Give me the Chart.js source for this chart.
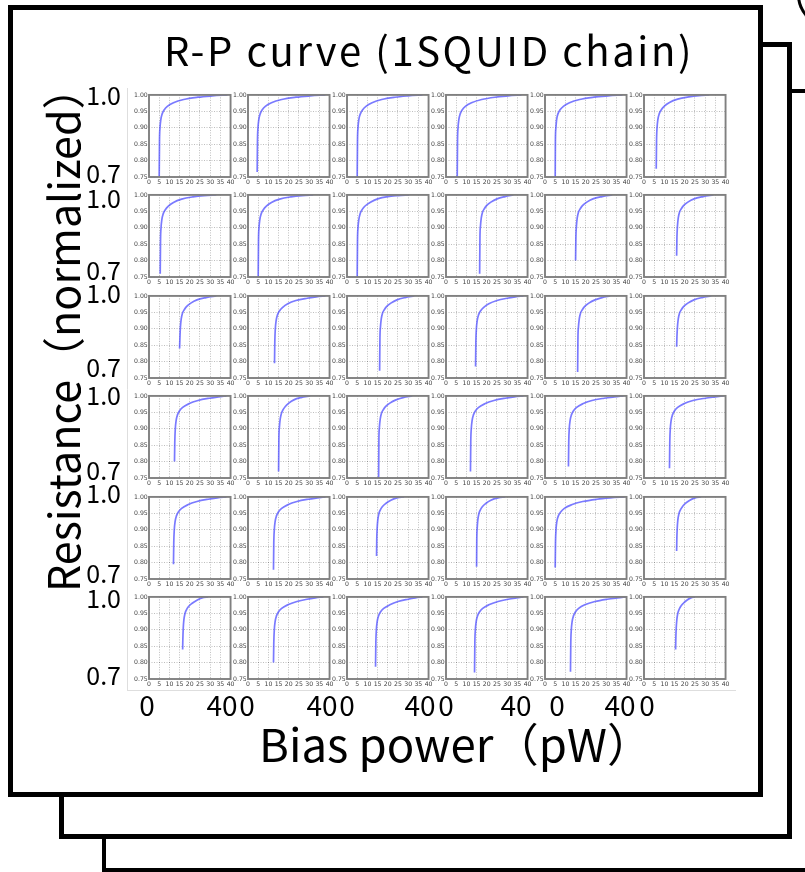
<!DOCTYPE html>
<html>
<head>
<meta charset="utf-8">
<script src="https://cdn.jsdelivr.net/npm/chart.js@4.4.1/dist/chart.umd.min.js"></script>
<style>
  html, body { margin: 0; padding: 0; background: #fff; }
  body { width: 805px; height: 872px; overflow: hidden; position: relative; font-family: "Noto Sans CJK JP", sans-serif; }
  .frame { position: absolute; box-sizing: border-box; background: #fff; border: 5px solid #000; }
  #f3 { left: 102px; top: 89px; width: 760px; height: 783px; border-width: 4px; }
  #f2 { left: 59px; top: 42px; width: 733px; height: 797px; }
  #f1 { left: 8px; top: 5px; width: 755px; height: 792px; }
  #corner { position: absolute; left: 797px; top: -200px; width: 100px; height: 227px; box-sizing: border-box;
            border-left: 3px solid #000; border-bottom: 3px solid #000; border-bottom-left-radius: 32px; }
  canvas { position: absolute; }
  .txt { position: absolute; white-space: nowrap; color: #000; line-height: 1; font-family: "Noto Sans CJK JP", sans-serif; }
  #title { left: 0; width: 858px; top: 29px; font-size: 40px; letter-spacing: 2.6px; text-align: center; }
  #xtitle { left: 259px; top: 720px; font-size: 45.5px; }
  #ytitle { left: 40px; top: 592px; font-size: 43px; transform-origin: 0 0; transform: rotate(-90deg); }
</style>
</head>
<body>
<div id="corner"></div>
<div class="frame" id="f3"></div>
<div class="frame" id="f2"></div>
<div class="frame" id="f1"></div>
<canvas id="outer" width="805" height="872"></canvas>
<div id="grid"></div>
<div class="txt" id="title">R-P curve (1SQUID chain)</div>
<div class="txt" id="xtitle">Bias power（pW）</div>
<div class="txt" id="ytitle">Resistance（normalized）</div>

<script>
// Tick values of every small R-P panel
const xTicks = [0, 5, 10, 15, 20, 25, 30, 35, 40];
const yTicks = [0.75, 0.80, 0.85, 0.90, 0.95, 1.00];

// Measured R-P curves, [bias power (pW), normalized resistance], one list per SQUID row
const row1 = [
  [[5,0.75],[5.15,0.86],[5.4,0.90],[5.8,0.925],[6.5,0.943],[7.5,0.955],[9,0.965],[12,0.976],[17,0.986],[24,0.993],[31,0.997],[38.5,1.0]],
  [[4.5,0.765],[4.65,0.86],[4.9,0.90],[5.3,0.925],[6,0.943],[7,0.955],[8.5,0.965],[11.5,0.976],[16.5,0.986],[23.5,0.993],[30.5,0.997],[38,1.0]],
  [[5,0.75],[5.15,0.86],[5.4,0.90],[5.8,0.925],[6.6,0.943],[7.7,0.955],[9.3,0.965],[12.3,0.976],[17,0.986],[23.5,0.993],[30,0.997],[37,1.0]],
  [[5.5,0.75],[5.65,0.86],[5.9,0.90],[6.3,0.925],[7,0.943],[8,0.955],[9.5,0.965],[12.5,0.976],[17.5,0.986],[24,0.993],[30.5,0.997],[37,1.0]],
  [[5,0.75],[5.1,0.86],[5.35,0.90],[5.7,0.925],[6.4,0.943],[7.4,0.955],[9,0.965],[12,0.976],[17,0.986],[24,0.993],[31,0.997],[38,1.0]],
  [[6,0.775],[6.15,0.86],[6.4,0.90],[6.8,0.925],[7.5,0.943],[8.5,0.955],[10,0.966],[12.5,0.977],[16.5,0.987],[22,0.994],[27,0.998],[32,1.0]]
];
const row2 = [
  [[5.5,0.76],[5.65,0.86],[5.9,0.90],[6.3,0.925],[7,0.943],[8,0.955],[9.5,0.966],[12,0.977],[16,0.987],[21.5,0.994],[27,0.998],[33,1.0]],
  [[5,0.75],[5.15,0.86],[5.4,0.90],[5.8,0.925],[6.5,0.943],[7.5,0.955],[9,0.966],[11.5,0.977],[15.5,0.987],[21,0.994],[26.5,0.998],[32,1.0]],
  [[5,0.75],[5.15,0.86],[5.4,0.90],[5.8,0.925],[6.5,0.944],[7.5,0.956],[9,0.967],[11.5,0.978],[15,0.988],[20,0.995],[25,0.998],[30.5,1.0]],
  [[16.5,0.76],[16.65,0.87],[16.9,0.905],[17.3,0.93],[17.9,0.947],[18.8,0.958],[20,0.968],[22,0.978],[25,0.988],[29,0.995],[33,1.0]],
  [[15,0.80],[15.15,0.87],[15.4,0.905],[15.8,0.93],[16.4,0.947],[17.3,0.958],[18.5,0.968],[20.5,0.978],[23.5,0.988],[28,0.995],[33,1.0]],
  [[16,0.815],[16.15,0.87],[16.4,0.905],[16.8,0.93],[17.4,0.947],[18.3,0.958],[19.5,0.968],[21.5,0.978],[24.5,0.988],[29,0.995],[34,1.0]]
];
const row3 = [
  [[15,0.84],[15.15,0.87],[15.4,0.905],[15.8,0.93],[16.4,0.947],[17.3,0.958],[18.5,0.968],[20.5,0.978],[23.5,0.988],[28,0.995],[33,1.0]],
  [[13,0.795],[13.15,0.86],[13.4,0.90],[13.8,0.925],[14.5,0.943],[15.5,0.955],[17,0.965],[19.5,0.976],[23.5,0.986],[29,0.993],[33.5,0.997],[38,1.0]],
  [[16,0.772],[16.15,0.87],[16.4,0.905],[16.8,0.93],[17.4,0.947],[18.3,0.958],[19.5,0.968],[21.5,0.978],[24.5,0.988],[28.5,0.995],[33,1.0]],
  [[14.5,0.785],[14.65,0.86],[14.9,0.90],[15.3,0.925],[16,0.943],[17,0.955],[18.5,0.965],[21,0.976],[25,0.986],[30,0.993],[34,0.997],[38,1.0]],
  [[16,0.768],[16.15,0.87],[16.4,0.905],[16.8,0.93],[17.4,0.947],[18.3,0.958],[19.5,0.968],[21.5,0.978],[24.5,0.988],[28,0.995],[32,1.0]],
  [[16,0.845],[16.15,0.875],[16.4,0.905],[16.8,0.93],[17.4,0.947],[18.3,0.958],[19.5,0.968],[21.5,0.978],[24.5,0.988],[28.5,0.995],[33,1.0]]
];
const row4 = [
  [[12.5,0.80],[12.65,0.86],[12.9,0.90],[13.3,0.925],[14,0.943],[15,0.955],[16.5,0.965],[19.5,0.976],[24,0.986],[29.5,0.993],[34,0.997],[38,1.0]],
  [[15,0.77],[15.15,0.87],[15.4,0.905],[15.8,0.93],[16.4,0.947],[17.2,0.958],[18.3,0.968],[20,0.978],[22.5,0.988],[26,0.995],[30.5,1.0]],
  [[15.5,0.75],[15.65,0.87],[15.9,0.905],[16.3,0.93],[16.9,0.947],[17.8,0.958],[19,0.968],[21,0.978],[24,0.988],[27.5,0.995],[32,1.0]],
  [[12,0.77],[12.15,0.86],[12.4,0.90],[12.8,0.925],[13.5,0.943],[14.5,0.955],[16,0.965],[19,0.976],[23.5,0.986],[29,0.993],[33.5,0.997],[38,1.0]],
  [[11.5,0.785],[11.65,0.86],[11.9,0.90],[12.3,0.925],[13,0.943],[14,0.955],[15.5,0.965],[18.5,0.976],[23,0.986],[29,0.993],[34,0.997],[38.5,1.0]],
  [[12.5,0.78],[12.65,0.86],[12.9,0.90],[13.3,0.925],[14,0.943],[15,0.955],[16.5,0.965],[19.5,0.976],[24,0.986],[30,0.993],[35,0.997],[39,1.0]]
];
const row5 = [
  [[12,0.795],[12.15,0.86],[12.4,0.90],[12.8,0.925],[13.5,0.943],[14.5,0.955],[16,0.965],[19,0.976],[23.5,0.986],[29,0.993],[33.5,0.997],[38,1.0]],
  [[12.5,0.778],[12.65,0.86],[12.9,0.90],[13.3,0.925],[14,0.943],[15,0.955],[16.5,0.965],[19.5,0.976],[24,0.986],[29.5,0.993],[34,0.997],[38,1.0]],
  [[14.5,0.82],[14.6,0.87],[14.8,0.905],[15.1,0.93],[15.6,0.948],[16.3,0.96],[17.3,0.97],[19,0.98],[21.5,0.99],[24.5,0.997],[28,1.0]],
  [[15,0.787],[15.1,0.87],[15.3,0.905],[15.6,0.93],[16.1,0.948],[16.8,0.96],[17.8,0.97],[19.5,0.98],[22,0.99],[25.5,0.997],[29,1.0]],
  [[5,0.785],[5.15,0.86],[5.4,0.90],[5.8,0.925],[6.6,0.943],[7.8,0.955],[9.5,0.965],[13,0.976],[18.5,0.986],[25.5,0.993],[32,0.997],[39,1.0]],
  [[16,0.835],[16.1,0.87],[16.3,0.905],[16.6,0.93],[17.1,0.948],[17.8,0.96],[18.8,0.97],[20.3,0.98],[22.5,0.99],[25,0.997],[28,1.0]]
];
const row6 = [
  [[16.5,0.84],[16.6,0.87],[16.8,0.905],[17.1,0.93],[17.6,0.948],[18.3,0.96],[19.3,0.97],[21,0.98],[23.5,0.99],[26,0.997],[29,1.0]],
  [[12.5,0.80],[12.65,0.86],[12.9,0.90],[13.3,0.925],[14,0.943],[15,0.955],[16.5,0.965],[19.5,0.976],[24,0.986],[29,0.993],[33,0.997],[37,1.0]],
  [[14,0.787],[14.15,0.86],[14.4,0.90],[14.8,0.925],[15.5,0.943],[16.5,0.955],[18,0.965],[21,0.976],[25,0.986],[30,0.993],[33.5,0.997],[37,1.0]],
  [[14,0.77],[14.15,0.86],[14.4,0.90],[14.8,0.925],[15.5,0.943],[16.5,0.955],[18,0.965],[21,0.976],[25.5,0.986],[30.5,0.993],[34.5,0.997],[38,1.0]],
  [[12.5,0.772],[12.65,0.86],[12.9,0.90],[13.3,0.925],[14,0.943],[15,0.955],[16.5,0.965],[19.5,0.976],[24.5,0.986],[30.5,0.993],[35.5,0.997],[40,1.0]],
  [[15.5,0.84],[15.6,0.87],[15.8,0.905],[16.1,0.93],[16.5,0.948],[17.1,0.96],[17.9,0.97],[19.2,0.98],[21,0.99],[23,0.997],[25,1.0]]
];

// Large tick labels of the surrounding figure axes
const outerYLabels = ['1.0','0.7','1.0','0.7','1.0','0.7','1.0','0.7','1.0','0.7','1.0','0.7'];
const outerXLabels = ['0','40','0','40','0','40','0','40','0','40','0'];

// ---- layout (page pixels) ----
const colLeft = [149, 248, 347, 446, 545, 644];
const rowTop  = [94, 194, 295, 395, 496, 596];
const PLOT_W = 82, PLOT_H = 83;
const Y_AXIS_W = 17, X_AXIS_H = 9, PAD_TOP = 4, PAD_RIGHT = 5;
const outerYLabelAt = [95, 173, 198, 270, 293, 367, 395, 470, 493, 573, 598, 675];
const outerXLabelAt = [147, 222, 247, 322, 347, 420, 446, 516, 557, 620, 647];
const OUTER = { left: 127, right: 735, top: 88, bottom: 690 };

const bigFont = '"Noto Sans CJK JP", sans-serif';
const smallFont = '"DejaVu Sans", sans-serif';

// Surrounding axes carrying the large tick labels
new Chart(document.getElementById('outer'), {
  type: 'scatter',
  data: { datasets: [] },
  options: {
    responsive: false, animation: false, events: [],
    layout: { padding: { left: 0, top: OUTER.top, right: 805 - OUTER.right, bottom: 872 - OUTER.bottom - 50 } },
    plugins: { legend: { display: false }, tooltip: { enabled: false } },
    scales: {
      x: {
        type: 'linear', position: 'bottom', min: OUTER.left, max: OUTER.right,
        afterBuildTicks: s => { s.ticks = outerXLabelAt.map(v => ({ value: v })); },
        afterFit: s => { s.height = 50; },
        ticks: { autoSkip: false, minRotation: 0, maxRotation: 0, padding: -1, color: '#000',
                 font: { family: bigFont, size: 28 }, callback: (v, i) => outerXLabels[i] },
        grid: { display: false, drawTicks: false },
        border: { display: true, color: '#dedede', width: 1 }
      },
      y: {
        type: 'linear', position: 'left', min: OUTER.top, max: OUTER.bottom, reverse: true,
        afterBuildTicks: s => { s.ticks = outerYLabelAt.map(v => ({ value: v })); },
        afterFit: s => { s.width = OUTER.left; },
        ticks: { autoSkip: false, padding: 6, color: '#000',
                 font: { family: bigFont, size: 25 }, callback: (v, i) => outerYLabels[i] },
        grid: { display: false, drawTicks: false },
        border: { display: true, color: '#dedede', width: 1 }
      }
    }
  }
});

// Grey box around each small panel
const panelFrame = {
  id: 'panelFrame',
  afterDatasetsDraw(chart) {
    const { ctx, chartArea: a } = chart;
    ctx.save();
    ctx.strokeStyle = '#808080';
    ctx.lineWidth = 1.9;
    ctx.strokeRect(a.left, a.top, a.right - a.left, a.bottom - a.top);
    ctx.restore();
  }
};

const rows = [row1, row2, row3, row4, row5, row6];
const gridHost = document.getElementById('grid');

rows.forEach((row, r) => {
  row.forEach((curve, c) => {
    const cv = document.createElement('canvas');
    const w = Y_AXIS_W + PLOT_W + PAD_RIGHT;
    const h = PAD_TOP + PLOT_H + X_AXIS_H;
    cv.width = w; cv.height = h;
    cv.style.left = (colLeft[c] - Y_AXIS_W) + 'px';
    cv.style.top = (rowTop[r] - PAD_TOP) + 'px';
    cv.style.width = w + 'px'; cv.style.height = h + 'px';
    gridHost.appendChild(cv);

    new Chart(cv, {
      type: 'scatter',
      data: {
        datasets: [{
          data: curve.map(([x, y]) => ({ x, y })),
          showLine: true, pointRadius: 0,
          borderColor: 'rgba(70,70,255,0.72)', borderWidth: 1.7,
          cubicInterpolationMode: 'monotone'
        }]
      },
      options: {
        responsive: false, animation: false, events: [],
        layout: { padding: { top: PAD_TOP, right: PAD_RIGHT, left: 0, bottom: 0 } },
        plugins: { legend: { display: false }, tooltip: { enabled: false } },
        scales: {
          x: {
            type: 'linear', min: 0, max: 40,
            afterBuildTicks: s => { s.ticks = xTicks.map(v => ({ value: v })); },
            afterFit: s => { s.height = X_AXIS_H; },
            ticks: { autoSkip: false, minRotation: 0, maxRotation: 0, padding: 1.5, color: '#444',
                     font: { family: smallFont, size: 6.2 } },
            grid: { color: 'rgba(0,0,0,0.32)', lineWidth: 0.8, drawTicks: false },
            border: { display: false, dash: [1, 1.5] }
          },
          y: {
            type: 'linear', min: 0.75, max: 1.0,
            afterBuildTicks: s => { s.ticks = yTicks.map(v => ({ value: v })); },
            afterFit: s => { s.width = Y_AXIS_W; },
            ticks: { autoSkip: false, padding: 1.2, color: '#444',
                     font: { family: smallFont, size: 6.2 }, callback: v => v.toFixed(2) },
            grid: { color: 'rgba(0,0,0,0.32)', lineWidth: 0.8, drawTicks: false },
            border: { display: false, dash: [1, 1.5] }
          }
        }
      },
      plugins: [panelFrame]
    });
  });
});
</script>
</body>
</html>
